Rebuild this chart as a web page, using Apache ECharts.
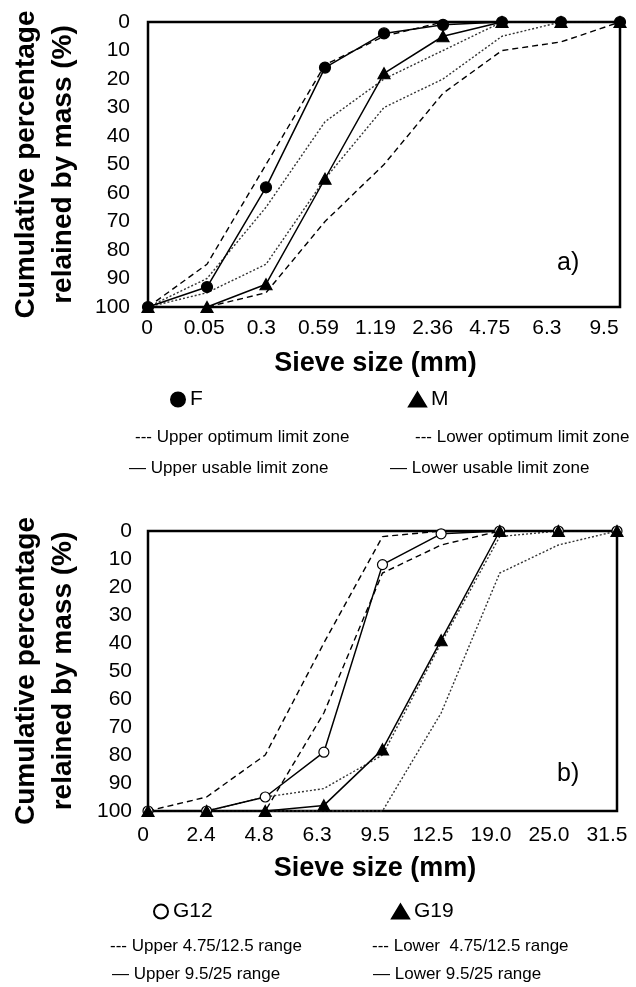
<!DOCTYPE html>
<html>
<head>
<meta charset="utf-8">
<title>Sieve curves</title>
<script src="https://cdn.jsdelivr.net/npm/echarts@6/dist/echarts.min.js"></script>
<style>
    html, body { margin: 0; padding: 0; background: #fff; }
    #chart { width: 636px; height: 987px; }
</style>
</head>
<body>
<div id="chart"></div>
<script>
// a) fine aggregates
const topSieves = ['0', '0.05', '0.3', '0.59', '1.19', '2.36', '4.75', '6.3', '9.5'];
const fineF = [100, 93, 58, 16, 4, 1, 0, 0, 0];
const mediumM = [100, 100, 92, 55, 18, 5, 0, 0, 0];
const usableUpper = [100, 85, 50, 15, 5, 0, 0, 0, 0];
const optimumUpper = [100, 90, 65, 35, 20, 10, 0, 0, 0];
const optimumLower = [100, 95, 85, 55, 30, 20, 5, 0, 0];
const usableLower = [100, 100, 95, 70, 50, 25, 10, 7, 0];

// b) coarse aggregates
const bottomSieves = ['0', '2.4', '4.8', '6.3', '9.5', '12.5', '19.0', '25.0', '31.5'];
const g12 = [100, 100, 95, 79, 12, 1, 0, 0, 0];
const g19 = [100, 100, 100, 98, 78, 39, 0, 0, 0];
const range475Upper = [100, 95, 80, 40, 2, 0, 0, 0, 0];
const range475Lower = [100, 100, 100, 65, 15, 5, 0, 0, 0];
const range95Upper = [100, 100, 95, 92, 80, 40, 2, 0, 0];
const range95Lower = [100, 100, 100, 100, 100, 65, 15, 5, 0];

const yTicks = [0, 10, 20, 30, 40, 50, 60, 70, 80, 90, 100];

const FONT = "'Liberation Sans', Arial, sans-serif";

function dataLine(name, values, gridIdx, symbol, size, fill) {
    return {
        name: name,
        type: 'line',
        xAxisIndex: gridIdx,
        yAxisIndex: gridIdx,
        data: values,
        symbol: symbol,
        symbolSize: size,
        showAllSymbol: true,
        clip: false,
        z: 5,
        lineStyle: { color: '#000', width: 1.5 },
        itemStyle: { color: fill, borderColor: '#000', borderWidth: 1.2 }
    };
}

function limitLine(name, values, gridIdx, dash, color) {
    return {
        name: name,
        type: 'line',
        xAxisIndex: gridIdx,
        yAxisIndex: gridIdx,
        data: values,
        symbol: 'none',
        z: 3,
        lineStyle: { color: color, width: 1.4, type: dash }
    };
}

function mainYAxis(gridIdx, margin) {
    return {
        gridIndex: gridIdx,
        type: 'value',
        inverse: true,
        min: yTicks[0],
        max: yTicks[yTicks.length - 1],
        interval: 10,
        axisLine: { show: false },
        axisTick: { show: false },
        splitLine: { show: false },
        axisLabel: { color: '#000', fontSize: 21, fontFamily: FONT, margin: margin },
        name: 'Cumulative percentage\nrelained by mass (%)',
        nameLocation: 'middle',
        nameRotate: 90,
        nameGap: 66,
        nameTextStyle: { color: '#000', fontSize: 28, fontWeight: 'bold', fontFamily: FONT, lineHeight: 37 }
    };
}

function hiddenXAxis(gridIdx, cats) {
    return {
        gridIndex: gridIdx,
        type: 'category',
        data: cats,
        boundaryGap: false,
        axisLine: { show: false },
        axisTick: { show: false },
        axisLabel: { show: false },
        splitLine: { show: false }
    };
}

// the tick labels sit on a slightly narrower row than the points
function labelXAxis(gridIdx, cats, margin, gap) {
    return {
        gridIndex: gridIdx,
        type: 'category',
        data: cats,
        boundaryGap: false,
        axisLine: { show: false },
        axisTick: { show: false },
        splitLine: { show: false },
        axisLabel: { color: '#000', fontSize: 21, fontFamily: FONT, margin: margin, interval: 0, showMinLabel: true, showMaxLabel: true },
        name: 'Sieve size (mm)',
        nameLocation: 'middle',
        nameGap: gap,
        nameTextStyle: { color: '#000', fontSize: 27, fontWeight: 'bold', fontFamily: FONT }
    };
}

function legendText(text, x, y) {
    return {
        type: 'text',
        x: x,
        y: y,
        style: {
            text: text,
            fill: '#000',
            fontSize: 17,
            fontFamily: FONT,
            textAlign: 'left',
            textVerticalAlign: 'middle',
            verticalAlign: 'middle'
        }
    };
}

function markerLegend(name, left, top, icon, w) {
    return {
        data: [name],
        left: left,
        top: top,
        padding: 0,
        icon: icon,
        itemWidth: w,
        itemHeight: 14,
        selectedMode: false,
        textStyle: { color: '#000', fontSize: 21, fontFamily: FONT }
    };
}

function renderChart() {
    const myChart = echarts.init(document.getElementById('chart'), null, { renderer: 'canvas' });

    const option = {
        animation: false,
        backgroundColor: '#fff',
        grid: [
            { left: 147, top: 22, width: 473, height: 285, show: true, borderColor: '#000', borderWidth: 2.5 },
            { left: 144, top: 531, width: 473, height: 280, show: true, borderColor: '#000', borderWidth: 2.5 },
            { left: 147, top: 22, width: 457, height: 285 },
            { left: 143, top: 531, width: 464, height: 280 }
        ],
        xAxis: [
            hiddenXAxis(0, topSieves),
            hiddenXAxis(1, bottomSieves),
            labelXAxis(2, topSieves, 11, 43),
            labelXAxis(3, bottomSieves, 14, 44)
        ],
        yAxis: [
            mainYAxis(0, 18),
            mainYAxis(1, 16),
            { gridIndex: 2, type: 'value', min: 0, max: 100, show: false },
            { gridIndex: 3, type: 'value', min: 0, max: 100, show: false }
        ],
        legend: [
            markerLegend('F', 170, 389, 'circle', 14),
            markerLegend('M', 408, 389, 'triangle', 17),
            markerLegend('G12', 153, 901, 'circle', 14),
            markerLegend('G19', 391, 901, 'triangle', 17)
        ],
        series: [
            limitLine('Upper usable limit zone', usableUpper, 0, [6, 4], '#000'),
            limitLine('Upper optimum limit zone', optimumUpper, 0, [2, 2], '#333'),
            limitLine('Lower optimum limit zone', optimumLower, 0, [2, 2], '#333'),
            limitLine('Lower usable limit zone', usableLower, 0, [6, 4], '#000'),
            dataLine('F', fineF, 0, 'circle', 11, '#000'),
            dataLine('M', mediumM, 0, 'triangle', [12, 11], '#000'),

            limitLine('Upper 4.75/12.5 range', range475Upper, 1, [6, 4], '#000'),
            limitLine('Lower 4.75/12.5 range', range475Lower, 1, [6, 4], '#000'),
            limitLine('Upper 9.5/25 range', range95Upper, 1, [2, 2], '#333'),
            limitLine('Lower 9.5/25 range', range95Lower, 1, [2, 2], '#333'),
            dataLine('G12', g12, 1, 'circle', 10, '#fff'),
            dataLine('G19', g19, 1, 'triangle', [12, 11], '#000')
        ],
        graphic: [
            { type: 'text', x: 557, y: 263, style: { text: 'a)', fill: '#000', fontSize: 25, fontFamily: FONT, textVerticalAlign: 'middle', verticalAlign: 'middle' } },
            { type: 'text', x: 557, y: 774, style: { text: 'b)', fill: '#000', fontSize: 25, fontFamily: FONT, textVerticalAlign: 'middle', verticalAlign: 'middle' } },
            legendText('--- Upper optimum limit zone', 135, 437),
            legendText('--- Lower optimum limit zone', 415, 437),
            legendText('\u2014 Upper usable limit zone', 129, 468),
            legendText('\u2014 Lower usable limit zone', 390, 468),
            legendText('--- Upper 4.75/12.5 range', 110, 946),
            legendText('--- Lower  4.75/12.5 range', 372, 946),
            legendText('\u2014 Upper 9.5/25 range', 112, 974),
            legendText('\u2014 Lower 9.5/25 range', 373, 974)
        ]
    };

    myChart.setOption(option);
}

document.addEventListener('DOMContentLoaded', function() {
    if (typeof echarts === 'undefined') {
        console.error('ECharts not loaded');
        return;
    }
    renderChart();
});
</script>
</body>
</html>
